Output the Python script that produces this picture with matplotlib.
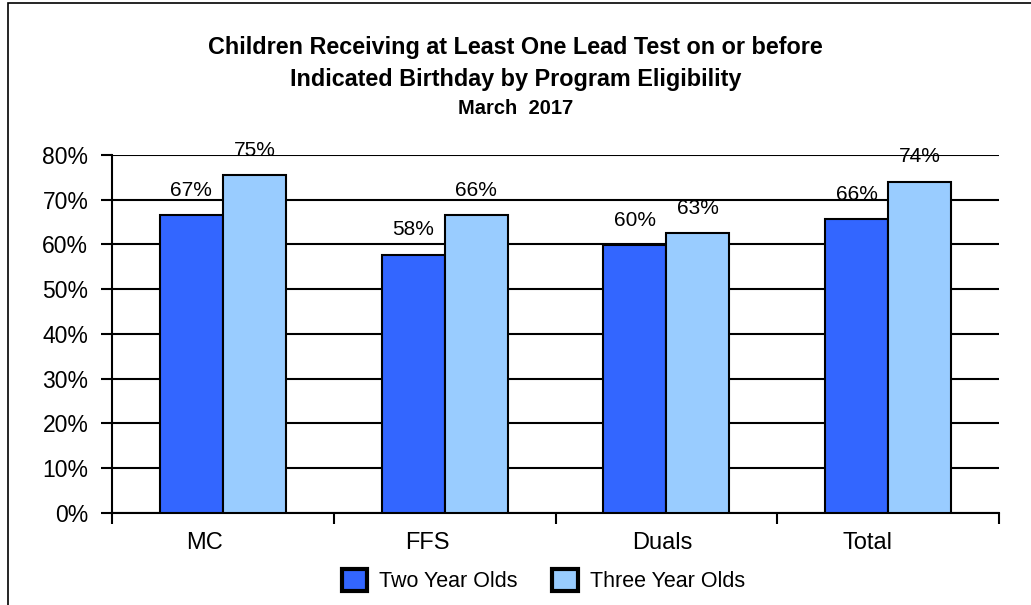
import matplotlib.pyplot as plt
import matplotlib.transforms as mtransforms
import numpy as np
from matplotlib.patches import Rectangle
from matplotlib.ticker import FixedLocator, PercentFormatter

plt.rcParams['font.family'] = ['Liberation Sans', 'DejaVu Sans']

categories = ['MC', 'FFS', 'Duals', 'Total']
two_year = [66.6, 57.7, 59.9, 65.7]
three_year = [75.5, 66.6, 62.6, 74.0]
two_labels = ['67%', '58%', '60%', '66%']
three_labels = ['75%', '66%', '63%', '74%']
series_names = ['Two Year Olds', 'Three Year Olds']

fig = plt.figure(figsize=(10.31, 6.05), dpi=100)
ax = fig.add_axes([0.1086, 0.152, 0.8604, 0.592])

# border of the chart area (only left/top visible in the original crop)
fig.patches.append(Rectangle((8 / 1031, -0.1), 1.2, (605 - 3) / 605 + 0.1,
                             transform=fig.transFigure, fill=False,
                             edgecolor='black', linewidth=1.2))

x = np.arange(len(categories))
w = 0.284
b1 = ax.bar(x - w / 2, two_year, w, color='#3366ff', edgecolor='black',
            linewidth=1.5, label=series_names[0], zorder=3)
b2 = ax.bar(x + w / 2, three_year, w, color='#99ccff', edgecolor='black',
            linewidth=1.5, label=series_names[1], zorder=3)

for bars, labs in [(b1, two_labels), (b2, three_labels)]:
    for r, lab in zip(bars, labs):
        ax.annotate(lab, (r.get_x() + r.get_width() / 2, r.get_height()),
                    xytext=(0, 11), textcoords='offset points',
                    ha='center', va='bottom', fontsize=15, zorder=4)

ax.set_ylim(0, 80)
ax.set_xlim(-0.5, 3.5)
ax.yaxis.set_major_locator(FixedLocator(np.arange(0, 81, 10)))
ax.yaxis.set_major_formatter(PercentFormatter(decimals=0))
ax.grid(axis='y', color='black', linewidth=1.5, zorder=1)

ax.set_xticks(x)
ax.set_xticklabels(categories)
ax.set_xticks(np.arange(-0.5, 4, 1), minor=True)
ax.tick_params(axis='x', which='major', length=0, labelsize=17, pad=14)
ax.tick_params(axis='x', which='minor', length=8, width=1.5, direction='out')
ax.tick_params(axis='y', length=8, width=1.5, labelsize=16.5, pad=9)

# Excel placed the category names a bit left of the group centres
shift_px = [-18, -17, -4, -21]
for lab, dx in zip(ax.get_xticklabels(), shift_px):
    lab.set_transform(lab.get_transform() +
                      mtransforms.ScaledTranslation(dx / 100, 0, fig.dpi_scale_trans))

for s in ['top', 'right']:
    ax.spines[s].set_visible(False)
for s in ['left', 'bottom']:
    ax.spines[s].set_linewidth(1.5)

fig.text(0.5, 0.922, 'Children Receiving at Least One Lead Test on or before',
         ha='center', va='center', fontsize=16.8, fontweight='bold')
fig.text(0.5, 0.868, 'Indicated Birthday by Program Eligibility',
         ha='center', va='center', fontsize=16.8, fontweight='bold')
fig.text(0.5, 0.821, 'March  2017',
         ha='center', va='center', fontsize=14.5, fontweight='bold')

leg = fig.legend(handles=[b1, b2], loc='center', bbox_to_anchor=(0.527, 0.04),
                 ncol=2, frameon=False, fontsize=15.5, handlelength=1.2,
                 handleheight=1.2, handletextpad=0.55, columnspacing=1.6)
for h in leg.legend_handles:
    h.set_linewidth(3)

fig.savefig('out.png', dpi=100)
